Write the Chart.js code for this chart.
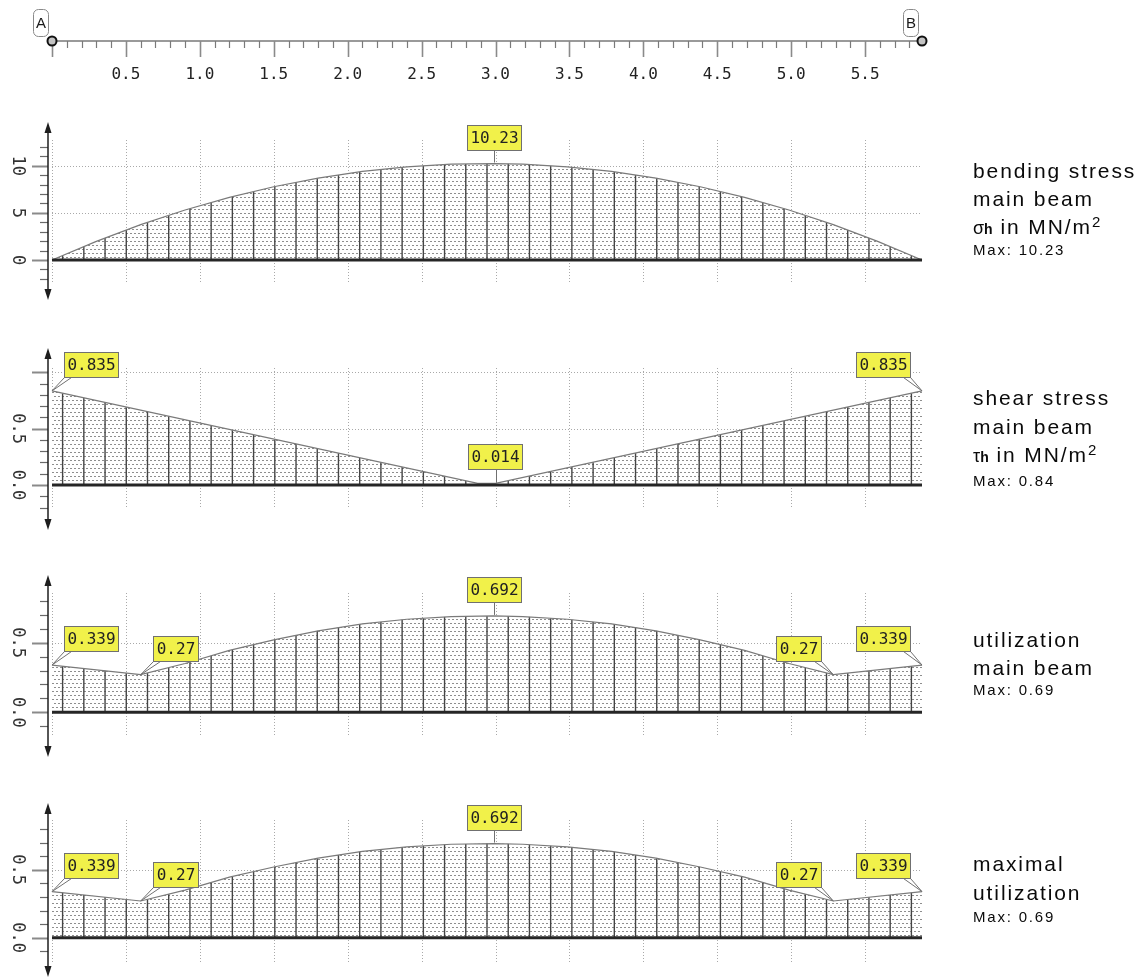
<!DOCTYPE html>
<html>
<head>
<meta charset="utf-8">
<script src="https://cdn.jsdelivr.net/npm/chart.js@4.4.1/dist/chart.umd.min.js"></script>
<style>
  html, body { margin: 0; padding: 0; background: #fff; }
  #page { position: relative; width: 1144px; height: 980px; overflow: hidden; }
  #page canvas { position: absolute; left: 0; }
  .l { position: absolute; left: 973px; font-family: "Liberation Sans", Arial, sans-serif;
       font-size: 21px; line-height: 21px; letter-spacing: 1.9px; color: #0a0a0a; white-space: nowrap; }
  .m { position: absolute; left: 973px; font-family: "Liberation Sans", Arial, sans-serif;
       font-size: 15px; line-height: 15px; letter-spacing: 1.8px; color: #0a0a0a; white-space: nowrap; }
  .sym { font-size: 18px; letter-spacing: 0; }
  .sub { font-size: 14px; font-weight: bold; letter-spacing: 0; }
  sup { font-size: 15px; line-height: 0; vertical-align: 7px; letter-spacing: 0; }
</style>
</head>
<body>
<div id="page">
  <canvas id="ruler" width="1144" height="100" style="top:0px"></canvas>
  <canvas id="cBend" width="1144" height="210" style="top:100px"></canvas>
  <canvas id="cShear" width="1144" height="200" style="top:335px"></canvas>
  <canvas id="cUtil" width="1144" height="200" style="top:562px"></canvas>
  <canvas id="cMax" width="1144" height="190" style="top:790px"></canvas>

  <div class="l" style="top:160px">bending stress</div>
  <div class="l" style="top:188px">main beam</div>
  <div class="l" style="top:216px"><span class="sym">σ</span><span class="sub">h</span> in MN/m<sup>2</sup></div>
  <div class="m" style="top:242px">Max: 10.23</div>

  <div class="l" style="top:387px">shear stress</div>
  <div class="l" style="top:416px">main beam</div>
  <div class="l" style="top:444px"><span class="sym">τ</span><span class="sub">h</span> in MN/m<sup>2</sup></div>
  <div class="m" style="top:473px">Max: 0.84</div>

  <div class="l" style="top:629px">utilization</div>
  <div class="l" style="top:657px">main beam</div>
  <div class="m" style="top:682px">Max: 0.69</div>

  <div class="l" style="top:853px">maximal</div>
  <div class="l" style="top:882px">utilization</div>
  <div class="m" style="top:909px">Max: 0.69</div>
</div>

<script>
// ---- beam and data --------------------------------------------------------
const SPAN = 5.885;                      // length A–B in m
const HATCH_SEGMENTS = 41;               // vertical hatch lines under the diagrams
const rulerLabels = ['0.5', '1.0', '1.5', '2.0', '2.5', '3.0', '3.5', '4.0', '4.5', '5.0', '5.5'];

// bending stress σh [MN/m²]
const bendingStations = [0, 0.3, 0.6, 0.9, 1.2, 1.5, 1.8, 2.1, 2.4, 2.7, 2.99, 3.185, 3.485, 3.785, 4.085, 4.385, 4.685, 4.985, 5.285, 5.585, 5.885];
const bendingValues   = [0, 1.98, 3.75, 5.30, 6.64, 7.77, 8.69, 9.39, 9.88, 10.16, 10.23, 10.16, 9.88, 9.39, 8.69, 7.77, 6.64, 5.30, 3.75, 1.98, 0];
const bendingTickLabels = ['0', '5', '10'];

// shear stress τh [MN/m²]
const shearStations = [0, 2.88, 3.0, 5.885];
const shearValues   = [0.835, 0.014, 0.014, 0.835];
const shearTickLabels = ['0.0', '0.5'];

// utilization main beam
const utilStations = [0, 0.6, 0.9, 1.2, 1.5, 1.8, 2.1, 2.4, 2.7, 2.99, 3.185, 3.485, 3.785, 4.085, 4.385, 4.685, 4.985, 5.285, 5.885];
const utilValues   = [0.339, 0.27, 0.35, 0.445, 0.52, 0.585, 0.635, 0.668, 0.687, 0.692, 0.687, 0.668, 0.635, 0.585, 0.52, 0.445, 0.35, 0.27, 0.339];
const utilTickLabels = ['0.0', '0.5'];

// maximal utilization
const maxUtilStations = [0, 0.6, 0.9, 1.2, 1.5, 1.8, 2.1, 2.4, 2.7, 2.99, 3.185, 3.485, 3.785, 4.085, 4.385, 4.685, 4.985, 5.285, 5.885];
const maxUtilValues   = [0.339, 0.27, 0.35, 0.445, 0.52, 0.585, 0.635, 0.668, 0.687, 0.692, 0.687, 0.668, 0.635, 0.585, 0.52, 0.445, 0.35, 0.27, 0.339];

// value flags: index into the series and flag direction
const bendingFlags = [{ i: 10, dir: 'up' }];
const shearFlags   = [{ i: 0, dir: 'ur' }, { i: 2, dir: 'up' }, { i: 3, dir: 'ul' }];
const utilFlags    = [{ i: 0, dir: 'ur' }, { i: 1, dir: 'ur' }, { i: 9, dir: 'up' }, { i: 17, dir: 'ul' }, { i: 18, dir: 'ul' }];

// ---- layout ---------------------------------------------------------------
const PLOT_LEFT = 52, PLOT_RIGHT = 922;
const MONO = '"DejaVu Sans Mono", "Liberation Mono", monospace';

const panels = [
  { canvas: 'cBend', top: 100, height: 210, zeroAt: 260, pxPerUnit: 9.43,
    yMin: -2, yMax: 12, step: 1, majorEvery: 5, tickLabels: bendingTickLabels, gridY: [5, 10],
    arrows: [122, 300], grid: [140, 282],
    stations: bendingStations, values: bendingValues, flags: bendingFlags },
  { canvas: 'cShear', top: 335, height: 200, zeroAt: 485, pxPerUnit: 112.7,
    yMin: -0.2, yMax: 1.0, step: 0.1, majorEvery: 5, tickLabels: shearTickLabels, gridY: [0.5, 1.0],
    arrows: [348, 530], grid: [368, 508],
    stations: shearStations, values: shearValues, flags: shearFlags },
  { canvas: 'cUtil', top: 562, height: 200, zeroAt: 712.3, pxPerUnit: 139.3,
    yMin: -0.1, yMax: 0.8, step: 0.1, majorEvery: 5, tickLabels: utilTickLabels, gridY: [0.5],
    arrows: [575, 757], grid: [593, 735],
    stations: utilStations, values: utilValues, flags: utilFlags },
  { canvas: 'cMax', top: 790, height: 190, zeroAt: 937.7, pxPerUnit: 136,
    yMin: -0.1, yMax: 0.8, step: 0.1, majorEvery: 5, tickLabels: utilTickLabels, gridY: [0.5],
    arrows: [803, 977], grid: [820, 962],
    stations: maxUtilStations, values: maxUtilValues, flags: utilFlags }
];

// dotted texture for the stress areas
function dotPattern() {
  const c = document.createElement('canvas');
  c.width = 4; c.height = 8;
  const g = c.getContext('2d');
  g.fillStyle = '#ffffff'; g.fillRect(0, 0, 4, 8);
  g.fillStyle = '#8e8e8e';
  g.fillRect(0, 1, 2, 1);
  g.fillRect(2, 5, 2, 1);
  return g.createPattern(c, 'repeat');
}

function seg(ctx, x1, y1, x2, y2) {
  ctx.beginPath(); ctx.moveTo(x1, y1); ctx.lineTo(x2, y2); ctx.stroke();
}

function gridStations() {
  return [0].concat(rulerLabels.map(parseFloat));
}

function makePanelPlugin(p) {
  return {
    id: 'panel_' + p.canvas,
    beforeDatasetsDraw(chart) {
      const ctx = chart.ctx, xs = chart.scales.x, ys = chart.scales.y;
      ctx.save();
      ctx.strokeStyle = '#a9a9a9';
      ctx.lineWidth = 1;
      ctx.setLineDash([1, 2]);
      for (const g of gridStations()) {
        const px = Math.round(xs.getPixelForValue(g)) + 0.5;
        seg(ctx, px, p.grid[0] - p.top, px, p.grid[1] - p.top);
      }
      for (const g of p.gridY) {
        const py = Math.round(ys.getPixelForValue(g)) + 0.5;
        seg(ctx, xs.getPixelForValue(0), py, xs.getPixelForValue(SPAN), py);
      }
      ctx.restore();
    },
    afterDatasetsDraw(chart) {
      const ctx = chart.ctx, xs = chart.scales.x, ys = chart.scales.y;
      const pts = chart.getDatasetMeta(0).data;
      const base = ys.getPixelForValue(0);

      // vertical hatching inside the area
      ctx.save();
      ctx.beginPath();
      ctx.moveTo(pts[0].x, base);
      pts.forEach(pt => ctx.lineTo(pt.x, pt.y));
      ctx.lineTo(pts[pts.length - 1].x, base);
      ctx.closePath();
      ctx.clip();
      ctx.strokeStyle = '#444';
      ctx.lineWidth = 1.4;
      for (let i = 0; i < HATCH_SEGMENTS; i++) {
        const px = xs.getPixelForValue((i + 0.5) * SPAN / HATCH_SEGMENTS);
        seg(ctx, px, 0, px, base);
      }
      ctx.restore();

      // outline of the diagram
      ctx.save();
      ctx.strokeStyle = '#7a7a7a';
      ctx.lineWidth = 1.2;
      ctx.beginPath();
      pts.forEach((pt, k) => k ? ctx.lineTo(pt.x, pt.y) : ctx.moveTo(pt.x, pt.y));
      ctx.stroke();

      // zero line
      ctx.strokeStyle = '#262626';
      ctx.lineWidth = 3;
      seg(ctx, xs.getPixelForValue(0), base, xs.getPixelForValue(SPAN), base);
      ctx.restore();

      drawAxis(chart, p);
      drawFlags(chart, p);
    }
  };
}

function drawAxis(chart, p) {
  const ctx = chart.ctx, xs = chart.scales.x, ys = chart.scales.y;
  const ax = Math.round(xs.getPixelForValue(0)) - 4;
  const yTop = p.arrows[0] - p.top, yBot = p.arrows[1] - p.top;
  ctx.save();
  // ticks
  const n = Math.round((p.yMax - p.yMin) / p.step);
  for (let k = 0; k <= n; k++) {
    const v = p.yMin + k * p.step;
    const r = v / (p.step * p.majorEvery);
    const major = Math.abs(r - Math.round(r)) < 1e-6;
    const py = Math.round(ys.getPixelForValue(v)) + 0.5;
    ctx.strokeStyle = major ? '#8a8a8a' : '#6a6a6a';
    ctx.lineWidth = major ? 2 : 1.2;
    seg(ctx, major ? ax - 16 : ax - 8, py, ax, py);
  }
  // axis with arrows
  ctx.strokeStyle = '#1e1e1e';
  ctx.fillStyle = '#1e1e1e';
  ctx.lineWidth = 1.5;
  seg(ctx, ax, yTop + 6, ax, yBot - 6);
  ctx.beginPath();
  ctx.moveTo(ax, yTop); ctx.lineTo(ax - 3.5, yTop + 11); ctx.lineTo(ax + 3.5, yTop + 11); ctx.closePath(); ctx.fill();
  ctx.beginPath();
  ctx.moveTo(ax, yBot); ctx.lineTo(ax - 3.5, yBot - 11); ctx.lineTo(ax + 3.5, yBot - 11); ctx.closePath(); ctx.fill();
  // rotated tick labels
  ctx.fillStyle = '#333';
  ctx.font = '17px ' + MONO;
  ctx.textAlign = 'center';
  ctx.textBaseline = 'middle';
  for (const t of p.tickLabels) {
    const py = ys.getPixelForValue(parseFloat(t));
    ctx.save();
    ctx.translate(ax - 31, py);
    ctx.rotate(Math.PI / 2);
    ctx.fillText(t, 0, 0);
    ctx.restore();
  }
  ctx.restore();
}

function drawFlags(chart, p) {
  const ctx = chart.ctx, xs = chart.scales.x, ys = chart.scales.y;
  ctx.save();
  ctx.font = '16px ' + MONO;
  for (const f of p.flags) {
    const v = p.values[f.i];
    const text = String(v);
    const px = xs.getPixelForValue(p.stations[f.i]);
    const py = ys.getPixelForValue(v);
    const w = Math.round(ctx.measureText(text).width) + 7, h = 26;
    let bx, by = Math.round(py - 13 - h);
    if (f.dir === 'up') bx = Math.round(px - w / 2);
    else if (f.dir === 'ur') bx = Math.round(px + 12);
    else bx = Math.round(px - 11 - w);

    ctx.strokeStyle = '#707070';
    ctx.lineWidth = 1;
    if (f.dir === 'up') {
      seg(ctx, Math.round(px) + 0.5, by + h, Math.round(px) + 0.5, py - 1);
    } else {
      const x1 = f.dir === 'ur' ? bx + 0.5 : bx + w - 7.5;
      const x2 = f.dir === 'ur' ? bx + 7.5 : bx + w - 0.5;
      ctx.fillStyle = '#ffffff';
      ctx.beginPath();
      ctx.moveTo(x1, by + h - 0.5); ctx.lineTo(px, py); ctx.lineTo(x2, by + h - 0.5);
      ctx.closePath(); ctx.fill(); ctx.stroke();
    }
    ctx.fillStyle = '#f1f14a';
    ctx.fillRect(bx, by, w, h);
    ctx.strokeRect(bx + 0.5, by + 0.5, w - 1, h - 1);
    ctx.fillStyle = '#222';
    ctx.textAlign = 'center';
    ctx.textBaseline = 'middle';
    ctx.fillText(text, bx + w / 2, by + h / 2 + 1);
  }
  ctx.restore();
}

const commonScalesX = { type: 'linear', min: 0, max: SPAN, display: false };

for (const p of panels) {
  const padTop = (p.zeroAt - p.yMax * p.pxPerUnit) - p.top;
  const padBottom = (p.top + p.height) - (p.zeroAt - p.yMin * p.pxPerUnit);
  new Chart(document.getElementById(p.canvas), {
    type: 'line',
    data: {
      datasets: [{
        data: p.stations.map((s, k) => ({ x: s, y: p.values[k] })),
        borderColor: 'rgba(0,0,0,0)',
        borderWidth: 0,
        backgroundColor: dotPattern(),
        fill: 'origin',
        pointRadius: 0,
        tension: 0,
        clip: false
      }]
    },
    options: {
      responsive: false,
      animation: false,
      events: [],
      layout: { padding: { left: PLOT_LEFT, right: 1144 - PLOT_RIGHT, top: padTop, bottom: padBottom } },
      scales: {
        x: commonScalesX,
        y: { type: 'linear', min: p.yMin, max: p.yMax, display: false }
      },
      plugins: { legend: { display: false }, tooltip: { enabled: false } }
    },
    plugins: [makePanelPlugin(p)]
  });
}

// ---- ruler A–B ------------------------------------------------------------
const rulerPlugin = {
  id: 'ruler',
  afterDraw(chart) {
    const ctx = chart.ctx, xs = chart.scales.x;
    const y = 41;
    const x0 = xs.getPixelForValue(0), x1 = xs.getPixelForValue(SPAN);
    ctx.save();
    ctx.strokeStyle = '#9a9a9a';
    ctx.lineWidth = 2;
    seg(ctx, x0, y, x1, y);
    // ticks every 0.1 m, long ones every 0.5 m
    const n = Math.floor(SPAN * 10 + 1e-6);
    for (let k = 0; k <= n; k++) {
      const major = k % 5 === 0;
      const px = Math.round(xs.getPixelForValue(k / 10)) + 0.5;
      ctx.strokeStyle = major ? '#8a8a8a' : '#7a7a7a';
      ctx.lineWidth = major ? 1.6 : 1.2;
      seg(ctx, px, y, px, major ? y + 16 : y + 7);
    }
    ctx.fillStyle = '#222';
    ctx.font = '16px ' + MONO;
    ctx.textAlign = 'center';
    ctx.textBaseline = 'middle';
    for (const t of rulerLabels) ctx.fillText(t, xs.getPixelForValue(parseFloat(t)), 75);

    // support points A and B
    const supports = [{ v: 0, name: 'A', dx: -11 }, { v: SPAN, name: 'B', dx: -11 }];
    for (const s of supports) {
      const px = xs.getPixelForValue(s.v);
      const bx = px + s.dx - 8, bw = 15, byy = 9, bh = 27;
      ctx.strokeStyle = '#8a8a8a';
      ctx.lineWidth = 1;
      ctx.beginPath();
      ctx.roundRect(bx + 0.5, byy + 0.5, bw, bh, 5);
      ctx.stroke();
      ctx.fillStyle = '#1a1a1a';
      ctx.font = '15px "Liberation Sans", Arial, sans-serif';
      ctx.fillText(s.name, bx + bw / 2 + 0.5, byy + bh / 2 + 1);
      ctx.beginPath();
      ctx.arc(px, y, 4.5, 0, Math.PI * 2);
      ctx.fillStyle = '#c4c4c4';
      ctx.fill();
      ctx.strokeStyle = '#111';
      ctx.lineWidth = 2;
      ctx.stroke();
    }
    ctx.restore();
  }
};

new Chart(document.getElementById('ruler'), {
  type: 'line',
  data: { datasets: [{ data: [] }] },
  options: {
    responsive: false,
    animation: false,
    events: [],
    layout: { padding: { left: PLOT_LEFT, right: 1144 - PLOT_RIGHT, top: 10, bottom: 10 } },
    scales: { x: commonScalesX, y: { display: false, min: 0, max: 1 } },
    plugins: { legend: { display: false }, tooltip: { enabled: false } }
  },
  plugins: [rulerPlugin]
});
</script>
</body>
</html>
